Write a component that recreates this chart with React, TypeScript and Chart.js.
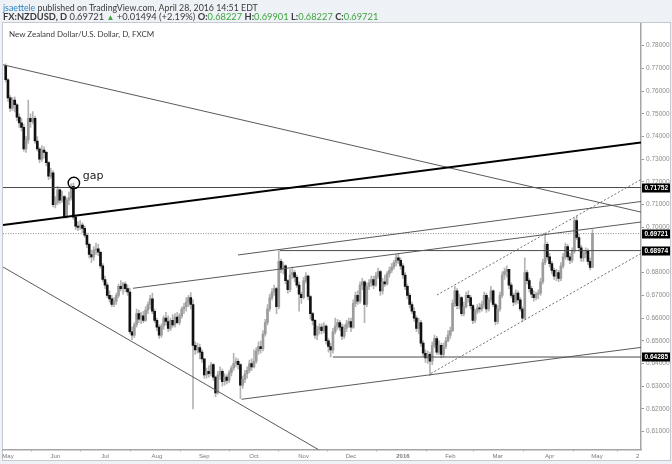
import React, { useEffect, useRef } from "react";
import { Chart, registerables } from "chart.js";
Chart.register(...registerables);

// ---- Daily NZDUSD candles (values in 1e-4 units), index 0 = Apr 30 2015 ----
const firstOpen = 7712;
const closes = [
  7650,7570,7525,7560,7540,7485,7460,7440,7345,7385,7480,7465,7480,7380,7345,7300,7340,7330,7285,7225,7240,7100,
  7110,7165,7120,7135,7045,7120,7130,7180,7045,7005,7000,7010,6995,6965,6925,6880,6870,6900,6905,6890,6830,6770,
  6745,6700,6685,6660,6675,6700,6740,6730,6750,6730,6715,6540,6525,6570,6620,6595,6610,6590,6635,6660,6685,6630,6590,
  6560,6525,6565,6600,6585,6555,6590,6570,6605,6580,6610,6640,6650,6670,6690,6660,6480,6460,6470,6450,6420,
  6350,6365,6355,6395,6340,6270,6350,6365,6320,6340,6325,6360,6380,6400,6410,6395,6305,6330,6355,6370,6400,6385,
  6410,6455,6475,6465,6530,6580,6640,6690,6715,6730,6650,6850,6815,6830,6765,6725,6790,6800,6780,6745,6705,6690,
  6765,6785,6695,6620,6590,6525,6550,6560,6545,6565,6500,6475,6460,6540,6565,6580,6560,6520,6555,6575,6585,
  6560,6665,6700,6675,6745,6760,6660,6740,6755,6770,6745,6785,6805,6720,6760,6750,6795,6810,6825,6845,6865,6855,6830,
  6790,6740,6700,6660,6630,6600,6555,6580,6490,6445,6425,6440,6410,6480,6510,6450,6480,6440,6475,6500,6525,
  6545,6665,6720,6655,6690,6620,6650,6700,6690,6655,6590,6630,6645,6640,6660,6700,6640,6680,6720,6660,6585,
  6640,6700,6790,6805,6815,6745,6700,6670,6710,6680,6640,6600,6800,6765,6730,6705,6690,6705,6710,6760,6845,6925,6870,
  6840,6810,6785,6800,6775,6830,6870,6915,6870,6855,6895,7030,6955,6910,6865,6885,6895,6850,6822.7,6972.1,
];
const highs = [
  7720,7655,7580,7572,7575,7545,7500,7480,7455,7400,7560,7500,7510,7490,7400,7350,7360,7355,7335,7290,7260,7250,
  7135,7180,7170,7160,7140,7130,7155,7192,7195,7050,7025,7030,7020,7005,6975,6930,6900,6915,6930,6925,6895,6840,
  6785,6755,6720,6700,6690,6710,6750,6765,6758,6760,6745,6732,6560,6580,6640,6635,6625,6630,6650,6670,6700,6710,6640,
  6600,6570,6575,6610,6625,6610,6600,6615,6620,6625,6620,6650,6665,6690,6700,6712,6680,6495,6490,6485,6460,
  6420,6380,6390,6405,6400,6345,6365,6385,6375,6355,6350,6370,6390,6445,6425,6420,6400,6345,6370,6385,6415,6420,
  6460,6470,6495,6500,6545,6595,6660,6705,6730,6745,6735,6897,6860,6845,6835,6770,6815,6825,6810,6790,6760,6715,
  6780,6800,6790,6700,6625,6595,6565,6575,6575,6580,6570,6510,6490,6555,6600,6595,6590,6575,6570,6590,6600,
  6600,6680,6715,6720,6760,6775,6765,6755,6770,6785,6785,6800,6820,6810,6775,6790,6805,6825,6840,6855,6880,6885,6865,
  6840,6800,6750,6710,6670,6645,6610,6600,6590,6500,6460,6455,6450,6495,6525,6520,6500,6490,6490,6515,6545,
  6560,6680,6740,6730,6705,6695,6670,6715,6720,6700,6660,6640,6660,6665,6675,6715,6710,6690,6740,6725,6665,
  6655,6715,6805,6820,6830,6815,6755,6710,6725,6720,6690,6650,6865,6810,6775,6740,6720,6715,6725,6775,6860,6976,6935,
  6885,6850,6820,6815,6810,6845,6885,6930,6925,6885,6910,7040,7048,6970,6920,6900,6910,6905,6865,6990.1,
];
const lows = [
  7640,7555,7510,7515,7508,7470,7440,7425,7335,7330,7370,7440,7455,7370,7335,7285,7290,7305,7270,7210,7215,7090,
  7085,7100,7105,7110,7040,7040,7100,7120,7035,6990,6985,6990,6975,6955,6910,6865,6845,6855,6880,6875,6820,6760,
  6730,6690,6670,6650,6650,6660,6690,6720,6705,6715,6700,6530,6505,6515,6560,6580,6575,6580,6585,6620,6640,6620,6580,
  6545,6510,6515,6550,6570,6540,6545,6560,6560,6575,6570,6600,6620,6630,6650,6640,6200,6440,6445,6420,6405,
  6335,6335,6340,6345,6325,6254,6265,6330,6300,6305,6310,6315,6345,6370,6385,6375,6245,6290,6315,6335,6360,6370,
  6380,6400,6440,6445,6455,6520,6570,6630,6680,6700,6620,6640,6800,6795,6750,6710,6715,6775,6760,6735,6630,6665,
  6685,6755,6680,6595,6570,6510,6505,6530,6530,6535,6485,6450,6429,6445,6530,6550,6545,6505,6510,6540,6560,
  6540,6555,6650,6660,6665,6725,6580,6650,6725,6740,6730,6740,6775,6700,6705,6740,6745,6780,6800,6815,6830,6840,6815,
  6775,6725,6685,6645,6620,6585,6540,6530,6475,6430,6405,6400,6346,6395,6470,6440,6440,6425,6430,6465,6495,
  6510,6540,6650,6640,6640,6610,6610,6645,6670,6640,6575,6580,6620,6625,6630,6645,6625,6630,6670,6650,6570,
  6575,6630,6690,6770,6780,6730,6690,6655,6660,6665,6630,6585,6595,6750,6715,6690,6675,6680,6685,6700,6750,6835,6855,
  6825,6795,6770,6765,6760,6765,6820,6860,6855,6840,6845,6885,6945,6895,6850,6850,6865,6835,6812,6822.7,
];

// ---- Axis ticks ----
const monthTickIndex = [1, 22, 44, 67, 88, 110, 132, 153, 176, 197, 218, 241, 262, 280];
const monthTickLabels = ["May", "Jun", "Jul", "Aug", "Sep", "Oct", "Nov", "Dec", "2016", "Feb", "Mar", "Apr", "May", "2"];
const priceTicks = [0.61, 0.62, 0.63, 0.64, 0.65, 0.66, 0.67, 0.68, 0.69, 0.7, 0.71, 0.72, 0.73, 0.74, 0.75, 0.76, 0.77, 0.78];
const markedPrices = [0.71752, 0.69721, 0.68974, 0.64285];

// ---- Drawn trendlines: [index, price] endpoints ----
const lineTopDescending = [[-1.2, 0.7716], [281.5, 0.7067]];
const lineThickRising = [[-1.2, 0.7010], [281.5, 0.73736]];
const lineBottomDescending = [[-1.2, 0.68251], [143.7, 0.59912]];
const lineJulyRising = [[56.4, 0.67313], [281.5, 0.70233]];
const lineSepRising = [[102.9, 0.6878], [281.5, 0.71137]];
const lineSepLowRising = [[104.5, 0.62423], [281.5, 0.64709]];
const channelUpper = [[191.1, 0.67018], [281.5, 0.72106]];
const channelLower = [[188.4, 0.63559], [281.5, 0.68846]];
const level71752 = [[-1.2, 0.71752], [281.5, 0.71752]];
const level69721 = [[-1.2, 0.69721], [281.5, 0.69721]];
const level68974 = [[121.5, 0.68974], [281.5, 0.68974]];
const level64285 = [[145, 0.64285], [281.5, 0.64285]];
const gapNote = { index: 30.2, price: 0.71955, text: "gap" };

const toPts = (arr: number[][]) => arr.map(([x, y]) => ({ x, y }));

export default function App() {
  const ref = useRef<HTMLCanvasElement | null>(null);
  useEffect(() => {
    if (!ref.current) return;
    const opens = closes.map((_, i) => (i === 0 ? firstOpen : closes[i - 1]));
    const bodies = closes.map((c, i) => ({ x: i, y: [opens[i] / 10000, c / 10000] }));
    const wicks = closes.map((_, i) => ({ x: i, y: [lows[i] / 10000, highs[i] / 10000] }));
    const isUp = closes.map((c, i) => c >= opens[i]);

    const mkLine = (arr: number[][], color: string, width: number, dash: number[] = []) => ({
      type: "line" as const,
      data: toPts(arr),
      borderColor: color,
      borderWidth: width,
      borderDash: dash,
      pointRadius: 0,
      fill: false,
      tension: 0,
      order: 0,
    });

    const bgPlugin = {
      id: "bg",
      beforeDraw(chart: any) {
        const c = chart.ctx;
        c.save();
        c.fillStyle = "#eef1f5";
        c.fillRect(0, 0, 672, 464);
        c.fillStyle = "#ffffff";
        c.fillRect(2.5, 22.5, 668, 438);
        c.strokeStyle = "#c6cad0";
        c.lineWidth = 1;
        c.strokeRect(2.5, 22.5, 668, 438);
        c.restore();
      },
    };

    const annoPlugin = {
      id: "anno",
      afterDraw(chart: any) {
        const c = chart.ctx;
        const xs = chart.scales.x;
        const ys = chart.scales.y;
        c.save();
        c.font = "bold 6.5px 'Liberation Sans', Arial, sans-serif";
        c.textBaseline = "middle";
        c.textAlign = "left";
        markedPrices.forEach((p) => {
          const y = Math.round(ys.getPixelForValue(p));
          c.fillStyle = "#000";
          c.fillRect(642, y - 4.5, 28, 9);
          c.fillStyle = "#fff";
          c.fillText(p.toFixed(5), 644.5, y + 0.5);
        });
        const gx = xs.getPixelForValue(gapNote.index);
        const gy = ys.getPixelForValue(gapNote.price);
        c.strokeStyle = "#000";
        c.lineWidth = 1.4;
        c.beginPath();
        c.arc(gx, gy, 5.7, 0, Math.PI * 2);
        c.stroke();
        c.fillStyle = "#222";
        c.font = "11px 'DejaVu Sans', sans-serif";
        c.textBaseline = "middle";
        c.fillText(gapNote.text, gx + 9, gy - 7);
        c.restore();
      },
    };

    const chart = new Chart(ref.current, {
      type: "bar",
      data: {
        datasets: [
          mkLine(lineThickRising, "#000000", 2),
          mkLine(lineTopDescending, "#5a5a5a", 1),
          mkLine(lineBottomDescending, "#5a5a5a", 1),
          mkLine(lineJulyRising, "#5a5a5a", 1),
          mkLine(lineSepRising, "#5a5a5a", 1),
          mkLine(lineSepLowRising, "#5a5a5a", 1),
          mkLine(channelUpper, "#707070", 1, [2, 2]),
          mkLine(channelLower, "#707070", 1, [2, 2]),
          mkLine(level71752, "#4a4a4a", 1),
          mkLine(level69721, "#8a8a8a", 1, [1, 1.5]),
          mkLine(level68974, "#4a4a4a", 1),
          mkLine(level64285, "#4a4a4a", 1),
          {
            type: "bar" as const,
            data: bodies as any,
            backgroundColor: isUp.map((u) => (u ? "#9c9c9c" : "#111111")),
            borderWidth: 0,
            barThickness: 2,
            minBarLength: 1,
            grouped: false,
            order: 1,
          },
          {
            type: "bar" as const,
            data: wicks as any,
            backgroundColor: "#b4b4b4",
            borderWidth: 0,
            barThickness: 1,
            minBarLength: 1,
            grouped: false,
            order: 2,
          },
        ] as any,
      },
      options: {
        responsive: false,
        animation: false,
        devicePixelRatio: 1,
        layout: { padding: { left: 3, top: 23.5, right: 0, bottom: 0 } },
        plugins: { legend: { display: false }, tooltip: { enabled: false }, title: { display: false } },
        events: [],
        scales: {
          x: {
            type: "linear",
            min: -1.2,
            max: 281.5,
            offset: false,
            grid: { display: true, drawOnChartArea: false, drawTicks: true, tickLength: 2, color: "#9a9a9a" },
            border: { display: true, color: "#a5a5a5", width: 1.5 },
            afterBuildTicks: (s: any) => {
              s.ticks = monthTickIndex.map((v) => ({ value: v }));
            },
            afterFit: (s: any) => {
              s.height = 14.5;
            },
            ticks: {
              autoSkip: false,
              maxRotation: 0,
              padding: 1,
              color: "#7a7a7a",
              font: (ctx: any) => ({
                family: "'Liberation Sans', Arial, sans-serif",
                size: 6,
                weight: ctx.tick && ctx.tick.label === "2016" ? "bold" : "normal",
              }),
              callback: (v: any) => {
                const i = monthTickIndex.indexOf(Number(v));
                return i >= 0 ? monthTickLabels[i] : "";
              },
            },
          },
          y: {
            type: "linear",
            position: "right",
            min: 0.60211,
            max: 0.78978,
            grid: { display: true, drawOnChartArea: false, drawTicks: true, tickLength: 3, color: "#9a9a9a" },
            border: { display: true, color: "#a5a5a5", width: 1.5 },
            afterBuildTicks: (s: any) => {
              s.ticks = priceTicks.map((v) => ({ value: v }));
            },
            afterFit: (s: any) => {
              s.width = 31;
            },
            ticks: {
              padding: 2,
              color: "#8a8a8a",
              font: { family: "'Liberation Sans', Arial, sans-serif", size: 6.5 },
              callback: (v: any) => Number(v).toFixed(5),
            },
          },
        },
      } as any,
      plugins: [bgPlugin, annoPlugin],
    });
    return () => chart.destroy();
  }, []);

  const green = "#3fa53f";
  const dark = "#3a3a3a";
  return (
    <div style={{ position: "absolute", left: 0, top: 0, width: 672, height: 464, overflow: "hidden", fontFamily: "Lato, 'Open Sans', sans-serif" }}>
      <canvas ref={ref} width={672} height={464} style={{ display: "block", position: "absolute", left: 0, top: 0 }} />
      <div style={{ position: "absolute", left: 3, top: 2.5, fontSize: 8.8, lineHeight: "10px", color: dark, whiteSpace: "nowrap" }}>
        <span style={{ color: "#2f86c8" }}>jsaettele</span> published on TradingView.com, April 28, 2016 14:51 EDT
      </div>
      <div style={{ position: "absolute", left: 3, top: 10.5, fontSize: 9.3, lineHeight: "11px", color: dark, whiteSpace: "nowrap" }}>
        <b>FX:NZDUSD, D</b> 0.69721 <span style={{ color: green, fontSize: 8 }}>▲</span> +0.01494 (+2.19%) <b>O:</b>
        <span style={{ color: green }}>0.68227</span> <b>H:</b><span style={{ color: green }}>0.69901</span> <b>L:</b>
        <span style={{ color: green }}>0.68227</span> <b>C:</b><span style={{ color: green }}>0.69721</span>
      </div>
      <div style={{ position: "absolute", left: 9, top: 29, fontSize: 8, lineHeight: "10px", color: "#3a3a3a", whiteSpace: "nowrap" }}>
        New Zealand Dollar/U.S. Dollar, D, FXCM
      </div>
    </div>
  );
}
